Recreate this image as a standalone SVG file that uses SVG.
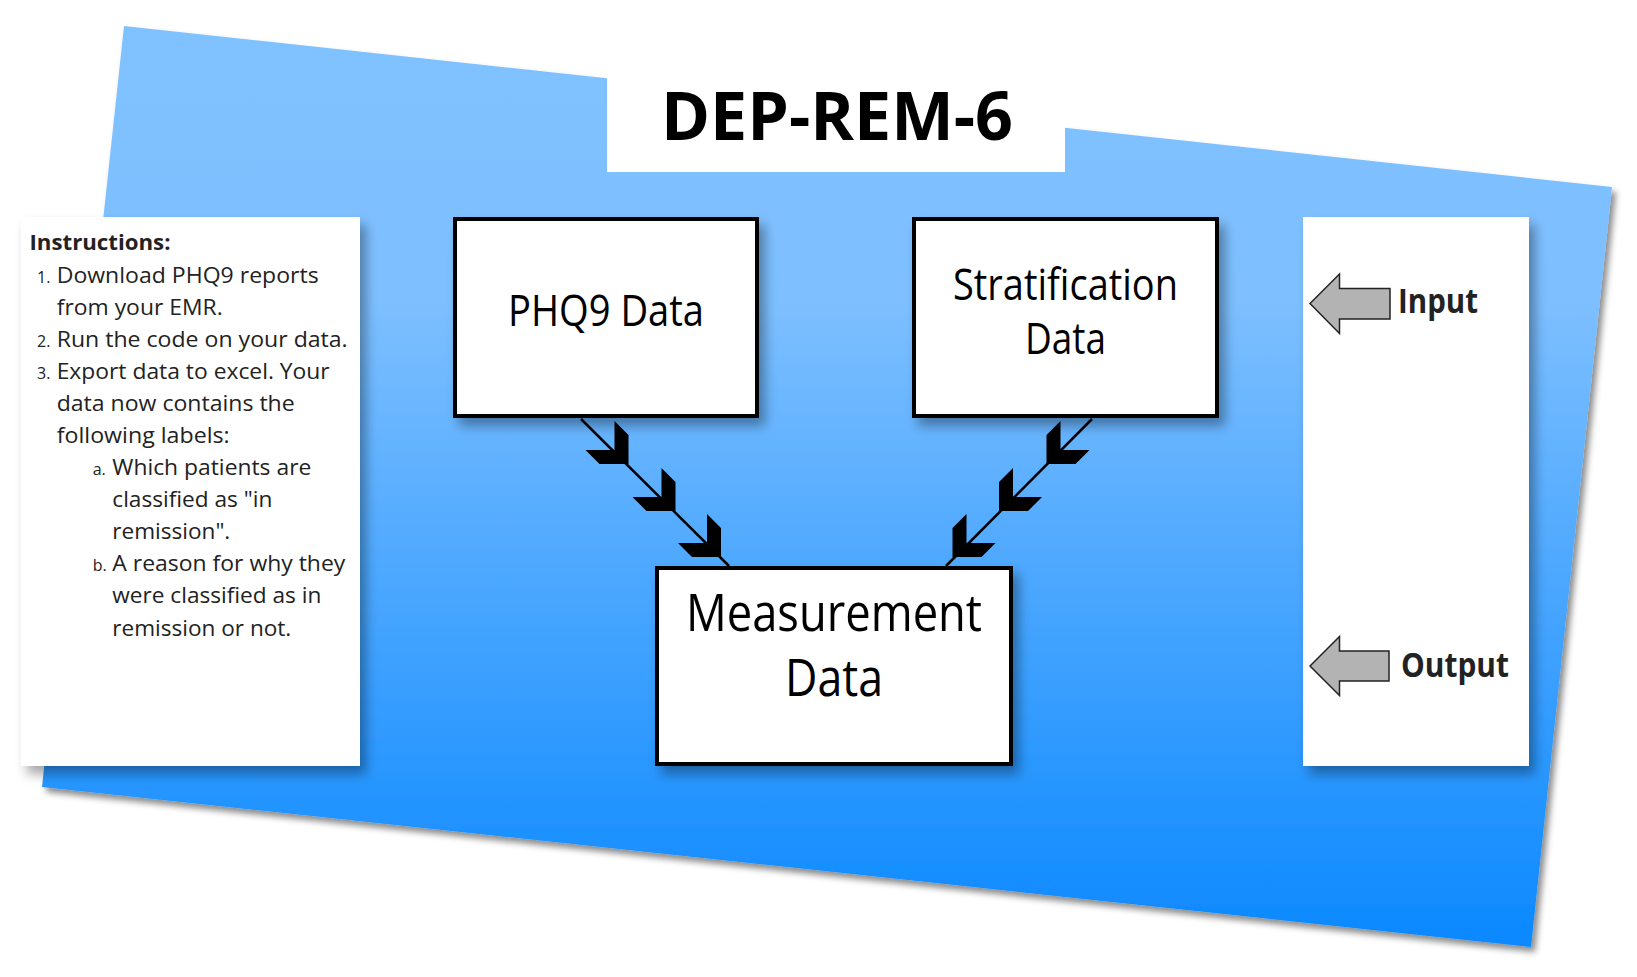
<svg xmlns="http://www.w3.org/2000/svg" width="1637" height="977" viewBox="0 0 1637 977">
  <defs>
    <linearGradient id="bg" gradientUnits="userSpaceOnUse" x1="0" y1="26" x2="0" y2="947">
      <stop offset="0" stop-color="#80C1FF"/>
      <stop offset="0.3" stop-color="#7DBFFF"/>
      <stop offset="1" stop-color="#0A88FF"/>
    </linearGradient>
    <filter id="shBg" x="-5%" y="-5%" width="115%" height="115%">
      <feDropShadow dx="4" dy="5" stdDeviation="3" flood-color="#000" flood-opacity="0.45"/>
    </filter>
    <filter id="shBox" x="-10%" y="-10%" width="130%" height="130%">
      <feDropShadow dx="6" dy="8" stdDeviation="6" flood-color="#000" flood-opacity="0.35"/>
    </filter>
    <path id="chev" d="M-14,-43 L0,-29 L0,0 L-29,0 L-43,-14 L-14,-14 Z"/>
    <style>
      .node { fill: #fff; stroke: #000; stroke-width: 4; }
      .panel { fill: #fff; }
      .ins { font-family: "Open Sans", "Noto Sans", sans-serif; font-size: 22px; fill: #222; }
      .num { font-family: "Open Sans", "Noto Sans", sans-serif; font-size: 16px; fill: #222; }
      .leg { font-family: "Open Sans", "Noto Sans", sans-serif; font-size: 34px; font-weight: bold; fill: #222; }
      .garrow { fill: #B3B3B3; stroke: #222; stroke-width: 1.5; }
      .conn { stroke: #000; stroke-width: 2.5; fill: none; }
      .chev { fill: #000; }
    </style>
  </defs>

  <rect width="1637" height="977" fill="#fff"/>

  <g id="background">
    <path d="M124,26 L1612,187 L1531,947 L42,787 Z" fill="url(#bg)" filter="url(#shBg)"/>
  </g>

  <g id="title">
    <rect x="607" y="60" width="458" height="112" fill="#fff"/>
    <text x="837" y="140" font-family="'Open Sans', 'Noto Sans', sans-serif" font-size="66" font-weight="bold" text-anchor="middle" textLength="352" lengthAdjust="spacingAndGlyphs" fill="#000">DEP-REM-6</text>
  </g>

  <g id="instructions">
    <rect class="panel" x="21" y="217" width="339" height="549" filter="url(#shBox)"/>
    <text class="ins" x="29.5" y="250" font-weight="bold" textLength="141" lengthAdjust="spacingAndGlyphs">Instructions:</text>
    <text class="num" x="37" y="282.5">1.</text>
    <text class="ins" x="56.7" y="282.5" textLength="262" lengthAdjust="spacingAndGlyphs">Download PHQ9 reports</text>
    <text class="ins" x="56.7" y="314.5" textLength="166" lengthAdjust="spacingAndGlyphs">from your EMR.</text>
    <text class="num" x="37" y="346.5">2.</text>
    <text class="ins" x="56.7" y="346.5" textLength="291" lengthAdjust="spacingAndGlyphs">Run the code on your data.</text>
    <text class="num" x="37" y="378.5">3.</text>
    <text class="ins" x="56.7" y="378.5" textLength="273" lengthAdjust="spacingAndGlyphs">Export data to excel. Your</text>
    <text class="ins" x="56.7" y="410.5" textLength="238" lengthAdjust="spacingAndGlyphs">data now contains the</text>
    <text class="ins" x="56.7" y="442.5" textLength="173" lengthAdjust="spacingAndGlyphs">following labels:</text>
    <text class="num" x="92.7" y="474.5">a.</text>
    <text class="ins" x="112.3" y="474.5" textLength="199" lengthAdjust="spacingAndGlyphs">Which patients are</text>
    <text class="ins" x="112.3" y="506.5" textLength="160" lengthAdjust="spacingAndGlyphs">classified as "in</text>
    <text class="ins" x="112.3" y="539" textLength="118" lengthAdjust="spacingAndGlyphs">remission".</text>
    <text class="num" x="92.7" y="571">b.</text>
    <text class="ins" x="112.3" y="571" textLength="233" lengthAdjust="spacingAndGlyphs">A reason for why they</text>
    <text class="ins" x="112.3" y="603" textLength="209" lengthAdjust="spacingAndGlyphs">were classified as in</text>
    <text class="ins" x="112.3" y="635.5" textLength="179" lengthAdjust="spacingAndGlyphs">remission or not.</text>
  </g>

  <g id="legend">
    <rect class="panel" x="1303" y="217" width="226" height="549" filter="url(#shBox)"/>
    <g id="legend-input">
      <path class="garrow" d="M1310,303.5 L1339.5,274 L1339.5,288.5 L1390,288.5 L1390,319 L1339.5,319 L1339.5,333.5 Z"/>
      <text class="leg" x="1398" y="313" textLength="80" lengthAdjust="spacingAndGlyphs">Input</text>
    </g>
    <g id="legend-output">
      <path class="garrow" d="M1310,666 L1339.5,636.5 L1339.5,651 L1389,651 L1389,681 L1339.5,681 L1339.5,695.5 Z"/>
      <text class="leg" x="1401" y="677" textLength="108" lengthAdjust="spacingAndGlyphs">Output</text>
    </g>
  </g>

  <g id="connectors">
    <g id="conn-phq9-measurement">
      <line class="conn" x1="581" y1="419" x2="729" y2="566"/>
      <use href="#chev" class="chev" transform="translate(628.5,464)"/>
      <use href="#chev" class="chev" transform="translate(675.5,511)"/>
      <use href="#chev" class="chev" transform="translate(721,557)"/>
    </g>
    <g id="conn-strat-measurement">
      <line class="conn" x1="1092" y1="419" x2="946" y2="566"/>
      <use href="#chev" class="chev" transform="translate(1046.5,464) scale(-1,1)"/>
      <use href="#chev" class="chev" transform="translate(999,511) scale(-1,1)"/>
      <use href="#chev" class="chev" transform="translate(952.5,557) scale(-1,1)"/>
    </g>
  </g>

  <g id="node-phq9">
    <rect class="node" x="455" y="219" width="302" height="197" filter="url(#shBox)"/>
    <text x="606" y="325.5" font-family="'Open Sans', 'Noto Sans', sans-serif" font-size="43" text-anchor="middle" textLength="196" lengthAdjust="spacingAndGlyphs" fill="#000">PHQ9 Data</text>
  </g>

  <g id="node-stratification">
    <rect class="node" x="914" y="219" width="303" height="197" filter="url(#shBox)"/>
    <text x="1065.5" y="300" font-family="'Open Sans', 'Noto Sans', sans-serif" font-size="43" text-anchor="middle" textLength="225" lengthAdjust="spacingAndGlyphs" fill="#000">Stratification</text>
    <text x="1065.5" y="354" font-family="'Open Sans', 'Noto Sans', sans-serif" font-size="43" text-anchor="middle" textLength="81" lengthAdjust="spacingAndGlyphs" fill="#000">Data</text>
  </g>

  <g id="node-measurement">
    <rect class="node" x="657" y="568" width="354" height="196" filter="url(#shBox)"/>
    <text x="834" y="631" font-family="'Open Sans', 'Noto Sans', sans-serif" font-size="51" text-anchor="middle" textLength="296" lengthAdjust="spacingAndGlyphs" fill="#000">Measurement</text>
    <text x="834" y="696" font-family="'Open Sans', 'Noto Sans', sans-serif" font-size="51" text-anchor="middle" textLength="98" lengthAdjust="spacingAndGlyphs" fill="#000">Data</text>
  </g>
</svg>
